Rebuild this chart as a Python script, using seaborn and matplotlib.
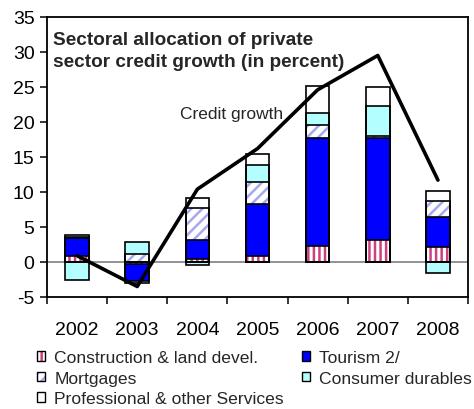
import numpy as np
import pandas as pd
import matplotlib
matplotlib.use("Agg")
import matplotlib.pyplot as plt
import seaborn as sns
from matplotlib.patches import Patch

# ---------------- data ----------------
years = ["2002", "2003", "2004", "2005", "2006", "2007", "2008"]
construction = [0.8, -0.3, 0.5, 0.8, 2.3, 3.2, 2.1]
tourism = [2.6, -2.4, 2.7, 7.5, 15.4, 14.5, 4.4]
mortgages = [0.2, 1.1, 4.5, 3.1, 1.9, 0.3, 2.2]
consumer_durables = [-2.5, 1.7, -0.4, 2.5, 1.7, 4.3, -1.5]
professional = [0.2, -0.3, 1.5, 1.5, 3.9, 2.7, 1.4]
credit_growth = [0.9, -3.5, 10.4, 16.2, 24.6, 29.5, 11.7]

series_labels = ["Construction & land devel.", "Tourism 2/", "Mortgages",
                 "Consumer durables", "Professional & other Services"]
y_ticks = [-5, 0, 5, 10, 15, 20, 25, 30, 35]
title_lines = ["Sectoral allocation of private", "sector credit growth (in percent)"]
line_label = "Credit growth"

# ---------------- style ----------------
sns.set_style("ticks")
plt.rcParams["font.family"] = ["Liberation Sans", "DejaVu Sans"]
plt.rcParams["axes.unicode_minus"] = False
plt.rcParams["hatch.linewidth"] = 1.8

styles = [
    dict(face="white", hatch="|||", hcolor="#CC4080"),
    dict(face="#0000FF", hatch=None, hcolor=None),
    dict(face="white", hatch="///", hcolor="#A8A8F0"),
    dict(face="#B3FFFF", hatch=None, hcolor=None),
    dict(face="white", hatch=None, hcolor=None),
]

fig = plt.figure(figsize=(4.74, 4.10), dpi=100)
ax = fig.add_axes([47 / 474, 1 - 298 / 410, 421 / 474, 280 / 410])

vals = np.array([construction, tourism, mortgages, consumer_durables, professional])
pos_cum = np.where(vals > 0, vals, 0).cumsum(axis=0)
neg_cum = np.where(vals < 0, vals, 0).cumsum(axis=0)
heights = np.where(vals >= 0, pos_cum, neg_cum)

ax.axhline(0, color="#808080", lw=1.2, zorder=0.5)

bw = 0.39
for i in reversed(range(len(series_labels))):
    st = styles[i]
    df = pd.DataFrame({"year": years, "value": heights[i]})
    kw = dict(data=df, x="year", y="value", order=years, width=bw,
              errorbar=None, ax=ax)
    if st["hatch"]:
        sns.barplot(**kw, color=st["face"], saturation=1, facecolor=st["face"],
                    edgecolor=st["hcolor"], linewidth=0, hatch=st["hatch"], zorder=2)
    else:
        sns.barplot(**kw, color=st["face"], saturation=1, linewidth=0, zorder=2)
    sns.barplot(**kw, color="black", fill=False, linewidth=1.2, zorder=2.1)

sns.lineplot(x=np.arange(len(years)), y=credit_growth, color="black",
             linewidth=2.6, ax=ax, zorder=5)

ax.set_xlim(-0.5, len(years) - 0.5)
ax.set_ylim(y_ticks[0], y_ticks[-1])
ax.set_xlabel("")
ax.set_ylabel("")
ax.set_yticks(y_ticks)
ax.set_yticklabels([str(t) for t in y_ticks])
ax.set_xticks(np.arange(len(years)))
ax.set_xticklabels(years)
ax.set_xticks(np.arange(-0.5, len(years), 1.0), minor=True)
ax.tick_params(axis="x", which="major", length=0, pad=17, labelsize=14, colors="black")
ax.tick_params(axis="x", which="minor", length=5, width=1.1, direction="out", color="black")
ax.tick_params(axis="y", length=5, width=1.1, direction="out", pad=4, labelsize=14, colors="black")
for sp in ax.spines.values():
    sp.set_visible(True)
    sp.set_color("black")
    sp.set_linewidth(1.3)

# titles inside the plot
ax.text(6 / 421, (298 - 45) / 280, title_lines[0], transform=ax.transAxes,
        fontsize=13.7, fontweight="bold", ha="left", va="baseline")
ax.text(6 / 421, (298 - 67) / 280, title_lines[1], transform=ax.transAxes,
        fontsize=13.7, fontweight="bold", ha="left", va="baseline")
ax.text(2.57, 20.6, line_label, fontsize=12.5, ha="center", va="baseline")

# legend
def handle(i):
    st = styles[i]
    if st["hatch"]:
        return (Patch(facecolor=st["face"], edgecolor=st["hcolor"], hatch=st["hatch"], linewidth=0),
                Patch(facecolor="none", edgecolor="black", linewidth=1.0))
    return Patch(facecolor=st["face"], edgecolor="black", linewidth=1.0)

leg_kw = dict(frameon=False, fontsize=12.6, handlelength=0.48, handleheight=0.48,
              handletextpad=0.5, labelspacing=0.32, borderpad=0, borderaxespad=0,
              loc="upper left")
col1 = [0, 2, 4]
col2 = [1, 3]
leg1 = fig.legend([handle(i) for i in col1], [series_labels[i] for i in col1],
                  bbox_to_anchor=(37 / 474, 1 - 351 / 410), **leg_kw)
leg2 = fig.legend([handle(i) for i in col2], [series_labels[i] for i in col2],
                  bbox_to_anchor=(302 / 474, 1 - 351 / 410), **leg_kw)

fig.savefig("out.png", dpi=100)
